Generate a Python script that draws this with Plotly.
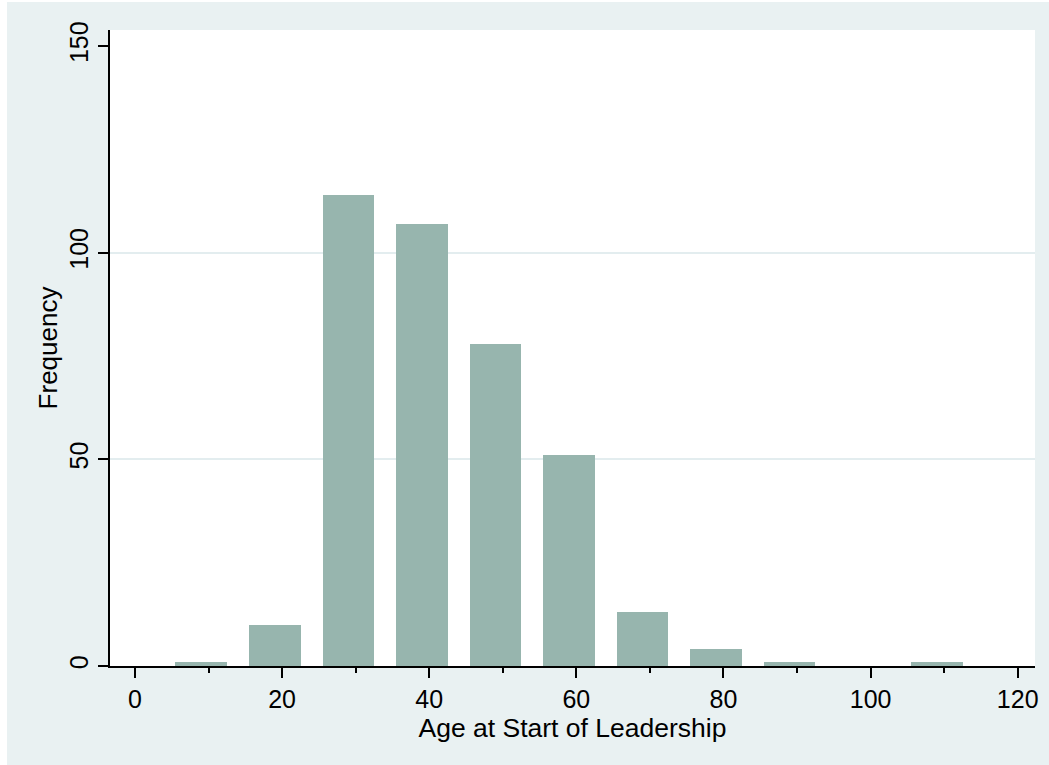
import plotly.graph_objects as go

# Data
bin_centers = [9, 19, 29, 39, 49, 59, 69, 79, 89, 99, 109]
frequencies = [1, 10, 114, 107, 78, 51, 13, 4, 1, 0, 1]
bar_width = 7
x_ticks = [0, 20, 40, 60, 80, 100, 120]
y_ticks = [0, 50, 100, 150]
y_grid = [50, 100]

# page offset of the figure in the reference (white strip left/top)
OFF_X, OFF_Y = 7, 2
W, H = 1049 - OFF_X, 765 - OFF_Y
L, R, T, B = 103, 14, 28, 99

FONT = "Liberation Sans, Arial, Helvetica, sans-serif"
BG = "#e9f1f2"
BAR = "#97b5ae"
GRID = "#e3edef"

fig = go.Figure()
fig.add_trace(go.Bar(x=bin_centers, y=frequencies, width=bar_width,
                     marker=dict(color=BAR, line=dict(width=0)),
                     showlegend=False, hoverinfo="x+y"))
# invisible trace bound to the grid axis
fig.add_trace(go.Scatter(x=[None], y=[None], yaxis="y2", showlegend=False))

yrange = [0, 153.87]
fig.update_layout(
    width=W, height=H,
    margin=dict(l=L, r=R, t=T, b=B, autoexpand=False),
    paper_bgcolor=BG, plot_bgcolor="white",
    font=dict(family=FONT, size=25, color="black"),
    bargap=0,
    xaxis=dict(range=[-3.399, 122.35], tickvals=x_ticks, ticks="outside",
               ticklen=10, tickwidth=1.7, tickcolor="black",
               showline=True, linecolor="black", linewidth=1.7,
               showgrid=False, zeroline=False,
               minor=dict(dtick=10, tick0=0, ticks="outside", ticklen=5,
                          tickwidth=1.5, tickcolor="black", showgrid=False),
               title=dict(text="Age at Start of Leadership", standoff=0,
                          font=dict(size=26.5)),
               tickfont=dict(size=25), automargin=False),
    yaxis=dict(range=yrange, tickvals=y_ticks, ticks="outside",
               ticklen=10, tickwidth=1.7, tickcolor="black",
               showline=True, linecolor="black", linewidth=1.7,
               showgrid=False, zeroline=False, tickangle=-90,
               title=dict(text="Frequency", standoff=0, font=dict(size=26)),
               tickfont=dict(size=25), automargin=False),
    yaxis2=dict(range=yrange, overlaying="y", tickvals=y_grid,
                showticklabels=False, ticks="", showgrid=True,
                gridcolor=GRID, gridwidth=2, zeroline=False,
                showline=False, layer="below traces"),
)

fig.write_html(
    "out.html",
    post_script=f"document.body.style.margin='{OFF_Y}px 0 0 {OFF_X}px';"
                "document.body.style.overflow='hidden';",
)
